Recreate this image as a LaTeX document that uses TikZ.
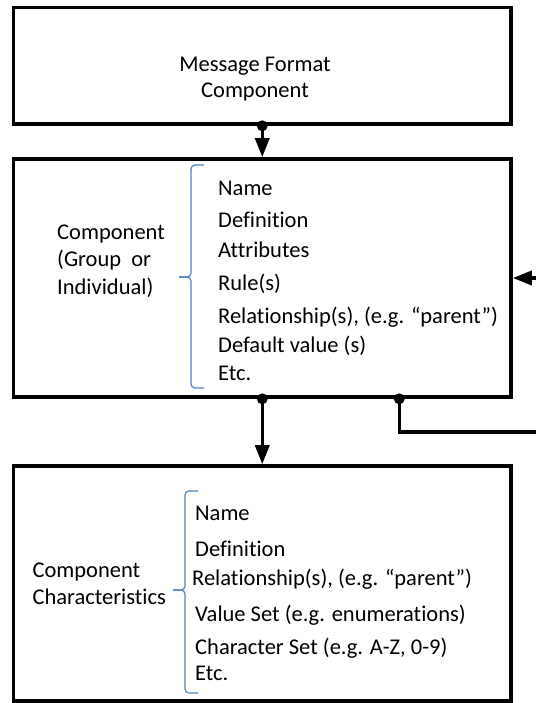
\documentclass[tikz,border=0pt]{standalone}
\usepackage{fontspec}
\setmainfont{Carlito}[Ligatures={NoCommon}]
\usetikzlibrary{arrows.meta}
\definecolor{braceBlue}{RGB}{79,129,189}
\newcommand\boxLine{3.6pt}

\begin{document}
\begin{tikzpicture}[x=1pt, y=-1pt,
    box/.style={draw, line width=\boxLine, minimum width=497.5pt, inner sep=0pt},
    conn/.style={line width=3.4pt, -{Triangle[length=19pt, width=14pt]}},
    label/.style={anchor=base west, inner sep=0pt, font=\fontsize{22.5}{27}\selectfont},
    brace/.style={draw=braceBlue, line width=1.2pt, rounded corners=4pt}]
    \useasboundingbox (0,0) rectangle (535,703);
    \def\itemBrace[#1,#2,#3,#4]{% Curly brace. Arguments are x of the long side, top, bottom and y of the tip
        \draw [brace] (#1+13,#2) -- (#1,#2) -- (#1,#4) -- (#1-12,#4);
        \draw [brace] (#1-12,#4) -- (#1,#4) -- (#1,#3) -- (#1+13,#3);
    }
    % Draw the three boxes
    \node [box, minimum height=116.5pt] (format) at (262.25,65.75) {};
    \node [box, minimum height=238pt] (component) at (262.25,278) {};
    \node [box, minimum height=235pt] (characteristics) at (262.25,583.5) {};
    % Title of the top box
    \foreach \ly/\ltext [count=\i] in {71.7/Message Format, 98/Component}
        \node [label, anchor=base] (title\i) at (255,\ly) {\ltext};
    % Left hand labels
    \foreach \lx/\ly/\ltext [count=\i] in {57/239.4/Component, 57/266.7/(Group\ \ or, 57/294.4/Individual),%
    32.4/577/Component, 32.4/604/Characteristics}
        \node [label] (side\i) at (\lx,\ly) {\ltext};
    % Items of the component box
    \foreach \ly/\ltext [count=\i] in {196/Name, 227.8/Definition, 257.5/Attributes, 290.6/Rule(s),%
    323/{Relationship(s), (e.g. “parent”)}, 352/Default value (s), 380/Etc.}
        \node [label] (item\i) at (218,\ly) {\ltext};
    % Items of the characteristics box
    \foreach \lx/\ly/\ltext [count=\i] in {195/520.4/Name, 195/556.2/Definition, 192/585.3/{Relationship(s), (e.g. “parent”)},%
    195/621/{Value Set (e.g. enumerations)}, 195/654.5/{Character Set (e.g. A-Z, 0-9)}, 195/680/Etc.}
        \node [label] (char\i) at (\lx,\ly) {\ltext};
    % Braces
    \itemBrace[191,165,388,277];
    \itemBrace[185,491,693,590];
    % Connectors
    \fill (format.south) circle (5.5pt);
    \draw [conn] (format.south) -- (component.north);
    \fill (component.south) circle (5.5pt);
    \draw [conn] (component.south) -- (characteristics.north);
    % Self relation, running out of the page on the right
    \coordinate (relDot) at ([xshift=137pt]component.south);
    \coordinate (relTurn) at (548,432);
    \fill (relDot) circle (5.5pt);
    \draw [conn] (relDot) |- (relTurn) |- (component.east);
\end{tikzpicture}
\end{document}
